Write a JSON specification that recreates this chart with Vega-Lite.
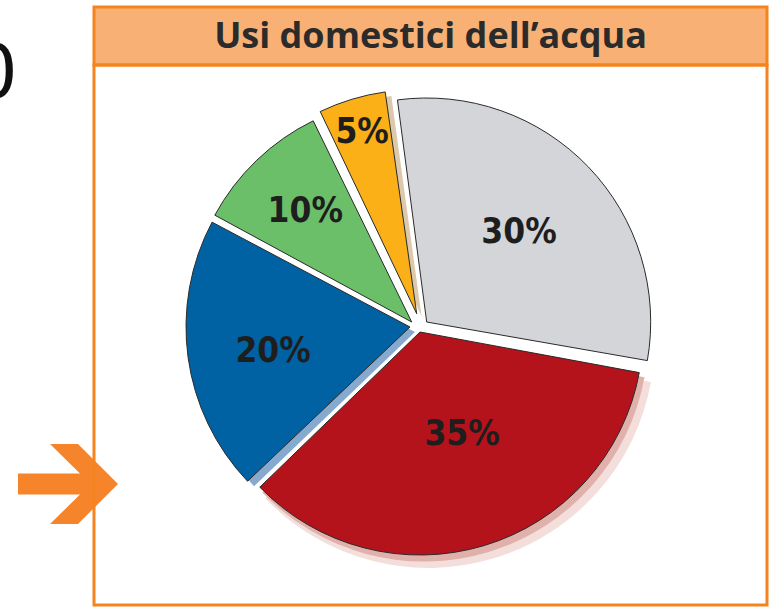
{
  "$schema": "https://vega.github.io/schema/vega-lite/v6.json",
  "background": "white",
  "padding": {"left": 0, "top": 5, "right": 0, "bottom": 0},
  "bounds": "flush",
  "spacing": 0,
  "config": {"view": {"stroke": null}, "concat": {"spacing": 0}},
  "hconcat": [
    {
      "width": 94,
      "height": 598,
      "data": {"values": [{"segno": "0", "freccia": "freccia"}]},
      "layer": [
        {
          "mark": {"type": "text", "font": "Liberation Sans", "fontSize": 80, "align": "right", "baseline": "middle", "color": "#111111", "clip": true},
          "encoding": {"text": {"field": "segno"}, "x": {"value": 16}, "y": {"value": 67}}
        },
        {
          "mark": {"type": "point", "shape": "M -1 -0.21 L 0.24 -0.21 L -0.36 -0.8 L 0.2 -0.8 L 1 0 L 0.2 0.8 L -0.36 0.8 L 0.24 0.21 L -1 0.21 Z", "size": 10000, "filled": true, "color": "#f5842a", "opacity": 1, "strokeWidth": 0},
          "encoding": {"x": {"value": 68}, "y": {"value": 477}}
        }
      ]
    },
    {
      "spacing": 0,
      "bounds": "flush",
      "vconcat": [
        {
          "width": 673,
          "height": 58,
          "view": {"fill": "#f8b075", "stroke": "#f5841f", "strokeWidth": 3},
          "data": {"values": [{"titolo": "Usi domestici dell’acqua"}]},
          "mark": {"type": "text", "font": "Open Sans", "fontWeight": "bold", "fontSize": 36, "color": "#2b2b2b", "align": "center", "baseline": "middle", "dy": 1},
          "encoding": {"text": {"field": "titolo"}}
        },
        {
          "width": 673,
          "height": 540,
          "view": {"stroke": "#f5841f", "strokeWidth": 3, "fill": null},
          "data": {"values": [
            {"fetta": "grigia", "pct": 30, "ordine": 1, "etichetta": "30%"},
            {"fetta": "rossa", "pct": 35, "ordine": 2, "etichetta": "35%"},
            {"fetta": "blu", "pct": 20, "ordine": 3, "etichetta": "20%"},
            {"fetta": "verde", "pct": 10, "ordine": 4, "etichetta": "10%"},
            {"fetta": "gialla", "pct": 5, "ordine": 5, "etichetta": "5%"}
          ]},
          "transform": [{"stack": "pct", "groupby": [], "sort": [{"field": "ordine"}], "as": ["inizio", "fine"]}],
          "layer": [
            {
              "transform": [{"filter": "datum.fetta == 'rossa'"}],
              "layer": [
                {"mark": {"type": "arc", "outerRadius": 226, "color": "#f3dedb", "xOffset": -2, "yOffset": 7, "strokeWidth": 0},
                 "encoding": {"theta": {"field": "inizio", "type": "quantitative", "scale": {"domain": [0, 100], "range": [-0.136, 6.147]}}, "theta2": {"field": "fine"}}},
                {"mark": {"type": "arc", "outerRadius": 224, "color": "#dfb1aa", "xOffset": -6.5, "yOffset": 2.5, "strokeWidth": 0},
                 "encoding": {"theta": {"field": "inizio", "type": "quantitative", "scale": {"domain": [0, 100], "range": [-0.136, 6.147]}}, "theta2": {"field": "fine"}}}
              ]
            },
            {
              "transform": [{"filter": "datum.fetta == 'blu'"}],
              "mark": {"type": "arc", "outerRadius": 223, "color": "#86a9cf", "xOffset": -15.5, "yOffset": -3, "strokeWidth": 0},
              "encoding": {"theta": {"field": "inizio", "type": "quantitative", "scale": {"domain": [0, 100], "range": [-0.136, 6.147]}}, "theta2": {"field": "fine"}}
            },
            {
              "transform": [{"filter": "datum.fetta == 'gialla'"}],
              "mark": {"type": "arc", "outerRadius": 222, "color": "#dcc8ab", "xOffset": -9, "yOffset": -19, "strokeWidth": 0},
              "encoding": {"theta": {"field": "inizio", "type": "quantitative", "scale": {"domain": [0, 100], "range": [-0.136, 6.147]}}, "theta2": {"field": "fine"}}
            },
            {
              "transform": [{"filter": "datum.fetta == 'blu'"}],
              "layer": [
                {"mark": {"type": "arc", "outerRadius": 224, "padAngle": 0.01, "stroke": "#2a2a2a", "strokeWidth": 1, "xOffset": -20.5, "yOffset": -8},
                 "encoding": {"theta": {"field": "inizio", "type": "quantitative", "scale": {"domain": [0, 100], "range": [-0.136, 6.147]}}, "theta2": {"field": "fine"},
                   "color": {"field": "fetta", "type": "nominal", "legend": null, "scale": {"domain": ["grigia", "rossa", "blu", "verde", "gialla"], "range": ["#d4d5d9", "#b5131b", "#0062a3", "#6cbf69", "#fbb017"]}}}},
                {"mark": {"type": "text", "font": "DejaVu Sans Condensed", "fontWeight": "bold", "fontSize": 35, "color": "#1e1e1e", "align": "center", "baseline": "middle", "radius": 139, "thetaOffset": 0.591, "xOffset": -20.5, "yOffset": -8},
                 "encoding": {"theta": {"field": "inizio", "type": "quantitative", "scale": {"domain": [0, 100], "range": [-0.136, 6.147]}}, "text": {"field": "etichetta"}}}
              ]
            },
            {
              "transform": [{"filter": "datum.fetta == 'verde'"}],
              "layer": [
                {"mark": {"type": "arc", "outerRadius": 224, "padAngle": 0.01, "stroke": "#2a2a2a", "strokeWidth": 1, "xOffset": -18.8, "yOffset": -13},
                 "encoding": {"theta": {"field": "inizio", "type": "quantitative", "scale": {"domain": [0, 100], "range": [-0.136, 6.147]}}, "theta2": {"field": "fine"},
                   "color": {"field": "fetta", "type": "nominal", "legend": null, "scale": {"domain": ["grigia", "rossa", "blu", "verde", "gialla"], "range": ["#d4d5d9", "#b5131b", "#0062a3", "#6cbf69", "#fbb017"]}}}},
                {"mark": {"type": "text", "font": "DejaVu Sans Condensed", "fontWeight": "bold", "fontSize": 35, "color": "#1e1e1e", "align": "center", "baseline": "middle", "radius": 154, "thetaOffset": 0.316, "xOffset": -18.8, "yOffset": -13},
                 "encoding": {"theta": {"field": "inizio", "type": "quantitative", "scale": {"domain": [0, 100], "range": [-0.136, 6.147]}}, "text": {"field": "etichetta"}}}
              ]
            },
            {
              "transform": [{"filter": "datum.fetta == 'gialla'"}],
              "layer": [
                {"mark": {"type": "arc", "outerRadius": 224, "padAngle": 0.01, "stroke": "#2a2a2a", "strokeWidth": 1, "xOffset": -13.8, "yOffset": -21.3},
                 "encoding": {"theta": {"field": "inizio", "type": "quantitative", "scale": {"domain": [0, 100], "range": [-0.136, 6.147]}}, "theta2": {"field": "fine"},
                   "color": {"field": "fetta", "type": "nominal", "legend": null, "scale": {"domain": ["grigia", "rossa", "blu", "verde", "gialla"], "range": ["#d4d5d9", "#b5131b", "#0062a3", "#6cbf69", "#fbb017"]}}}},
                {"mark": {"type": "text", "font": "DejaVu Sans Condensed", "fontWeight": "bold", "fontSize": 35, "color": "#1e1e1e", "align": "center", "baseline": "middle", "radius": 190, "thetaOffset": 0.159, "xOffset": -13.8, "yOffset": -21.3},
                 "encoding": {"theta": {"field": "inizio", "type": "quantitative", "scale": {"domain": [0, 100], "range": [-0.136, 6.147]}}, "text": {"field": "etichetta"}}}
              ]
            },
            {
              "transform": [{"filter": "datum.fetta == 'rossa'"}],
              "layer": [
                {"mark": {"type": "arc", "outerRadius": 223, "padAngle": 0.01, "stroke": "#2a2a2a", "strokeWidth": 1, "xOffset": -10.5, "yOffset": -3},
                 "encoding": {"theta": {"field": "inizio", "type": "quantitative", "scale": {"domain": [0, 100], "range": [-0.136, 6.147]}}, "theta2": {"field": "fine"},
                   "color": {"field": "fetta", "type": "nominal", "legend": null, "scale": {"domain": ["grigia", "rossa", "blu", "verde", "gialla"], "range": ["#d4d5d9", "#b5131b", "#0062a3", "#6cbf69", "#fbb017"]}}}},
                {"mark": {"type": "text", "font": "DejaVu Sans Condensed", "fontWeight": "bold", "fontSize": 35, "color": "#1e1e1e", "align": "center", "baseline": "middle", "radius": 110, "thetaOffset": 1.0, "xOffset": -10.5, "yOffset": -3},
                 "encoding": {"theta": {"field": "inizio", "type": "quantitative", "scale": {"domain": [0, 100], "range": [-0.136, 6.147]}}, "text": {"field": "etichetta"}}}
              ]
            },
            {
              "transform": [{"filter": "datum.fetta == 'grigia'"}],
              "layer": [
                {"mark": {"type": "arc", "outerRadius": 224, "padAngle": 0.01, "stroke": "#2a2a2a", "strokeWidth": 1, "xOffset": -3.8, "yOffset": -13},
                 "encoding": {"theta": {"field": "inizio", "type": "quantitative", "scale": {"domain": [0, 100], "range": [-0.136, 6.147]}}, "theta2": {"field": "fine"},
                   "color": {"field": "fetta", "type": "nominal", "legend": null, "scale": {"domain": ["grigia", "rossa", "blu", "verde", "gialla"], "range": ["#d4d5d9", "#b5131b", "#0062a3", "#6cbf69", "#fbb017"]}}}},
                {"mark": {"type": "text", "font": "DejaVu Sans Condensed", "fontWeight": "bold", "fontSize": 35, "color": "#1e1e1e", "align": "center", "baseline": "middle", "radius": 129, "thetaOffset": 0.934, "xOffset": -3.8, "yOffset": -13},
                 "encoding": {"theta": {"field": "inizio", "type": "quantitative", "scale": {"domain": [0, 100], "range": [-0.136, 6.147]}}, "text": {"field": "etichetta"}}}
              ]
            }
          ]
        }
      ]
    }
  ]
}
